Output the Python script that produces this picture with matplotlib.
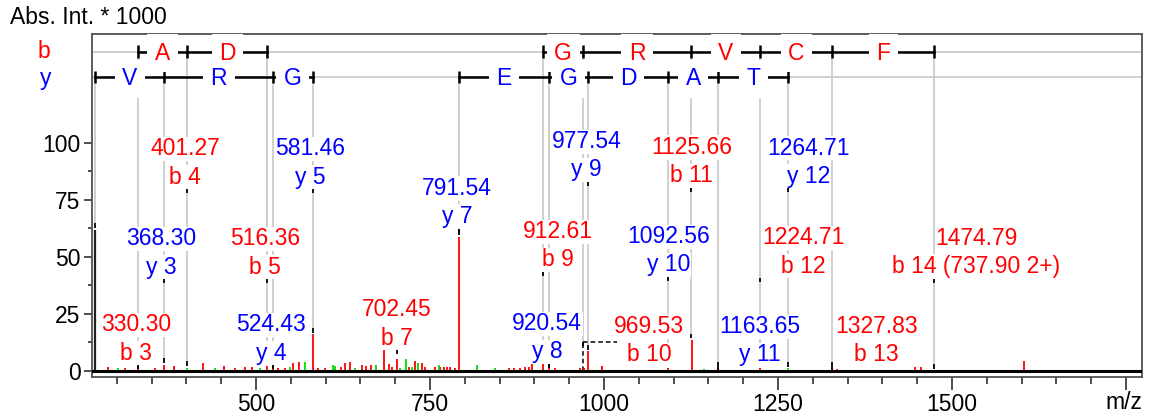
import matplotlib
matplotlib.use('Agg')
import matplotlib.pyplot as plt
import numpy as np

plt.rcParams['font.family'] = ['Liberation Sans', 'DejaVu Sans']

# ---------------- data ----------------
red_mz = [287.2, 311.2, 330.3, 354.4, 368.3, 382.1, 423.8, 454.0, 469.4, 483.8, 494.7,
          516.4, 524.4, 531.6, 541.3, 553.2, 561.4, 581.5, 589.1, 599.7, 622.7, 627.5,
          634.7, 651.5, 658.6, 665.8, 684.0, 690.3, 695.1, 702.5, 720.0, 728.6, 738.2,
          743.0, 756.4, 764.6, 769.4, 774.2, 779.0, 786.1, 791.5, 862.8, 870.0, 879.6,
          886.8, 891.5, 896.4, 912.6, 920.5, 929.9, 965.9, 970.6, 977.5, 997.0, 1092.6,
          1125.7, 1163.7, 1224.7, 1327.8, 1334.9, 1447.5, 1455.7, 1603.0]
red_int = [1.8, 1.3, 2.1, 1.3, 2.6, 2.3, 3.6, 2.3, 1.3, 1.6, 1.8,
           2.3, 1.9, 1.0, 1.3, 3.4, 3.8, 16.0, 1.3, 1.3, 1.6, 3.2,
           3.9, 2.6, 2.1, 2.5, 9.0, 2.8, 1.8, 5.0, 1.8, 4.1, 3.4,
           1.8, 1.8, 1.8, 1.5, 1.8, 1.8, 1.0, 58.8, 1.0, 1.0, 1.3,
           1.8, 1.8, 3.8, 2.8, 2.8, 1.0, 1.3, 1.3, 8.5, 2.1, 1.3,
           13.5, 1.0, 1.0, 1.0, 0.8, 1.8, 1.8, 4.3]
green_mz = [301.6, 400.8, 440.6, 505.3, 548.4, 570.0, 610.7, 614.1, 641.9, 673.0,
            707.0, 715.2, 723.8, 732.4, 762.2, 817.3, 843.6, 1143.2, 1264.7]
green_int = [1.3, 1.3, 1.3, 1.0, 1.5, 3.8, 2.6, 2.1, 1.3, 2.6,
             1.0, 5.0, 1.8, 3.4, 2.6, 2.6, 1.0, 0.8, 1.0]
dark_mz = [269.23]
dark_int = [62.0]

# sequence ladders (ion masses and residues between them)
b_ladder_mz = [[330.30, 401.27, 516.36],
               [912.61, 969.53, 1125.66, 1224.71, 1327.83, 1474.79]]
b_ladder_res = [['A', 'D'], ['G', 'R', 'V', 'C', 'F']]
y_ladder_mz = [[269.23, 368.30, 524.43, 581.46],
               [791.54, 920.54, 977.54, 1092.56, 1163.65, 1264.71]]
y_ladder_res = [['V', 'R', 'G'], ['E', 'G', 'D', 'A', 'T']]

# annotated ions
ann_mz = [330.30, 368.30, 401.27, 516.36, 524.43, 581.46, 702.45, 791.54, 912.61,
          920.54, 977.54, 969.53, 1092.56, 1125.66, 1163.65, 1224.71, 1264.71,
          1327.83, 1474.79]
ann_ion = ['b 3', 'y 3', 'b 4', 'b 5', 'y 4', 'y 5', 'b 7', 'y 7', 'b 9', 'y 8', 'y 9',
           'b 10', 'y 10', 'b 11', 'y 11', 'b 12', 'y 12', 'b 13', 'b 14 (737.90 2+)']

# label layout (label centre m/z, centre height of mass line)
lab_x = [327.5, 363.4, 397.9, 512.9, 521.6, 577.6, 702.7, 788.6, 933.5, 918.4, 974.5,
         1065.1, 1092.4, 1125.5, 1223.9, 1286.5, 1293.7, 1391.4, 1535.2]
lab_y = [20.9, 58.7, 98.2, 58.7, 20.9, 98.2, 27.5, 80.8, 61.8, 21.4, 101.3,
         20.1, 59.6, 98.7, 20.1, 59.1, 98.5, 20.1, 58.9]
leader_ions = ['b 10']

x_major = [500, 750, 1000, 1250, 1500, 1750]
x_labels = ['500', '750', '1000', '1250', '1500', '']
y_major = [0, 25, 50, 75, 100]

RED = '#ff0000'
BLUE = '#0000ff'
GREEN = '#00dd00'
LGRAY = '#c8c8c8'
FS = 16.5

B_ROW = 140.1
Y_ROW = 128.9

fig = plt.figure(figsize=(11.51, 4.19), dpi=100)
W, H = 1151, 419
ax = fig.add_axes([91.7 / W, 1 - 376.7 / H, (1142 - 91.7) / W, (376.7 - 34.3) / H])
ax.set_xlim(263.8, 1773)
ax.set_ylim(-2.6, 147.7)


def peak_top(m):
    best = 0.0
    for mm, ii in zip(red_mz + green_mz + dark_mz, red_int + green_int + dark_int):
        if abs(mm - m) < 1.2:
            best = max(best, ii)
    return best


# row lines
ax.axhline(B_ROW, color=LGRAY, lw=1.2, zorder=1)
ax.axhline(Y_ROW, color=LGRAY, lw=1.2, zorder=1)

# vertical gray lines from ladders
leader_mz = [m for m, n in zip(ann_mz, ann_ion) if n in leader_ions]
for groups, row in ((b_ladder_mz, B_ROW), (y_ladder_mz, Y_ROW)):
    for g in groups:
        for m in g:
            if m in leader_mz:
                bottom = 12.7
            else:
                bottom = peak_top(m) + 2.8
            ax.vlines(m, bottom, row, color=LGRAY, lw=1.2, zorder=1)
            ax.vlines(m, bottom - 2.0, bottom, color='black', lw=1.3, zorder=2)

# dashed leader
for m in leader_mz:
    i = ann_mz.index(m)
    ax.plot([m, m], [0, 12.7], color='black', lw=1.1, dashes=(3, 2), zorder=2)
    ax.plot([m, lab_x[i] - 47], [12.7, 12.7], color='black', lw=1.1, dashes=(3, 2), zorder=2)

# peaks
ax.vlines(red_mz, 0, red_int, color=RED, lw=1.3, zorder=3)
ax.vlines(green_mz, 0, green_int, color=GREEN, lw=1.3, zorder=3)
ax.vlines(dark_mz, 0, dark_int, color='#202020', lw=1.6, zorder=3)
ax.axhline(0, color='black', lw=2.2, zorder=4)

# ladders
for groups, resid, row, col in ((b_ladder_mz, b_ladder_res, B_ROW, RED),
                                (y_ladder_mz, y_ladder_res, Y_ROW, BLUE)):
    for g, rs in zip(groups, resid):
        ax.plot([g[0], g[-1]], [row, row], color='black', lw=1.8, zorder=6)
        ax.vlines(g, row - 2.7, row + 2.7, color='black', lw=1.8, zorder=6)
        for a, b, r in zip(g[:-1], g[1:], rs):
            ax.text((a + b) / 2, row - 3.5, r, color=col, fontsize=FS, ha='center',
                    va='baseline', zorder=7,
                    bbox=dict(facecolor='white', edgecolor='none', pad=5.5))

# labels
for m, ion, lx, ly in zip(ann_mz, ann_ion, lab_x, lab_y):
    col = RED if ion.startswith('b') else BLUE
    ax.text(lx, ly - 3.6, f'{m:.2f}', color=col, fontsize=FS, ha='center',
            va='baseline', zorder=8,
            bbox=dict(facecolor='white', edgecolor='none', pad=0.5))
    ax.text(lx, ly - 3.6 - 12.4, ion, color=col, fontsize=FS, ha='center',
            va='baseline', zorder=8,
            bbox=dict(facecolor='white', edgecolor='none', pad=0.5))
    dy = ly - 12.4 - 6.0
    if ion not in leader_ions:
        ax.vlines(m, dy - 1.8, dy, color='black', lw=1.3, zorder=8)

# axes styling
for s in ax.spines.values():
    s.set_color('#505050')
    s.set_linewidth(1.3)
ax.set_xticks(x_major)
ax.set_xticklabels(x_labels)
ax.set_xticks(np.arange(300, 1751, 50), minor=True)
ax.set_yticks(y_major)
ax.set_yticks([12.5, 37.5, 62.5, 87.5], minor=True)
ax.tick_params(axis='x', which='major', length=9.5, width=1.2, pad=2, labelsize=FS,
               color='#303030')
ax.tick_params(axis='x', which='minor', length=5, width=1.2, color='#303030')
ax.tick_params(axis='y', which='major', length=6, width=1.2, pad=2, labelsize=FS,
               color='#303030')
ax.tick_params(axis='y', which='minor', length=3, width=1.2, color='#303030')

fig.text(10 / W, 1 - 17 / H, 'Abs. Int. * 1000', fontsize=FS, ha='left', va='center')
fig.text(1142 / W, 1 - 402 / H, 'm/z', fontsize=FS, ha='right', va='center')
fig.text(44 / W, 1 - 57.7 / H, 'b', fontsize=FS, color=RED, ha='center', va='baseline')
fig.text(46 / W, 1 - 84.5 / H, 'y', fontsize=FS, color=BLUE, ha='center', va='baseline')

fig.savefig('out.png', dpi=100)
